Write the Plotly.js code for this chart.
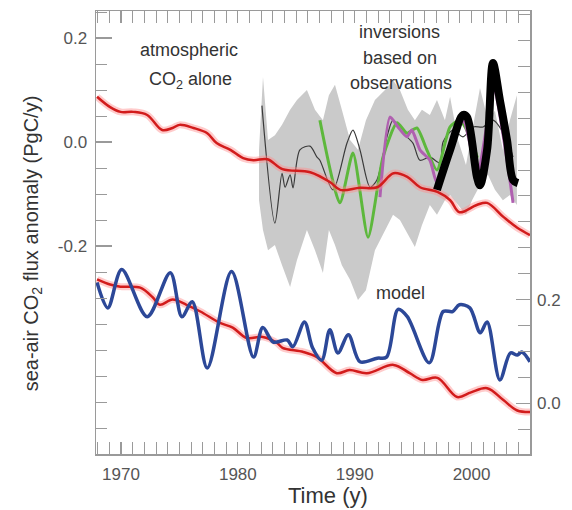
<!DOCTYPE html>
<html>
<head>
<meta charset="utf-8">
<script src="https://cdn.plot.ly/plotly-3.0.1.min.js"></script>
<style>html,body{margin:0;padding:0;background:#fff;}#chart{width:572px;height:510px;}</style>
</head>
<body>
<div id="chart"></div>
<script>
// ---- Data (years, PgC/y) ----
// Atmospheric CO2 alone (upper red, left axis)
var atmYears = [1967.95,1969.07,1969.96,1971.05,1972.24,1973.52,1974.41,1975.01,1976.2,1977.38,1978.18,1979.36,1980.45,1981.34,1982.53,1983.82,1986.19,1987.87,1988.76,1990.45,1991.93,1993.32,1994.5,1995.59,1997.08,1998.17,1998.96,2000.44,2001.33,2002.72,2003.91,2005.0];
var atmFlux  = [0.087,0.067,0.058,0.058,0.052,0.023,0.027,0.033,0.027,0.017,-0.002,-0.015,-0.031,-0.035,-0.033,-0.052,-0.058,-0.077,-0.092,-0.088,-0.087,-0.060,-0.067,-0.087,-0.096,-0.112,-0.135,-0.121,-0.117,-0.144,-0.165,-0.179];

// Inversion spread (gray band, left axis)
var bandYears = [1981.81,1982.15,1982.58,1983.17,1983.78,1984.47,1985.06,1985.91,1986.6,1987.28,1987.79,1988.31,1988.9,1989.6,1990.28,1990.96,1991.73,1992.59,1993.28,1993.87,1994.55,1995.15,1995.75,1996.43,1997.04,1997.72,1998.16,1998.84,1999.52,2000.04,2000.72,2001.4,2002.0,2002.68,2003.28,2003.88];
var bandUpper = [-0.015,0.125,0.004,0.013,0.033,0.062,0.081,0.100,0.062,0.042,0.090,0.110,0.062,0.004,-0.015,0.042,0.081,0.100,0.119,0.100,0.062,0.042,0.062,0.052,0.081,0.042,0.087,0.004,-0.044,0.023,0.104,0.042,0.06,-0.015,0.042,0.090];
var bandLower = [-0.112,-0.169,-0.208,-0.198,-0.237,-0.279,-0.227,-0.169,-0.208,-0.252,-0.169,-0.198,-0.237,-0.265,-0.304,-0.285,-0.208,-0.169,-0.140,-0.150,-0.179,-0.202,-0.160,-0.121,-0.140,-0.112,-0.102,-0.121,-0.140,-0.112,-0.083,-0.063,-0.092,-0.112,-0.102,-0.121];

// Inversion (thin black)
var invAYears = [1982.06,1983.17,1983.78,1984.04,1984.47,1984.72,1985.31,1986.17,1986.77,1987.02,1988.14,1989.34,1989.85,1990.45,1991.31,1991.9,1992.76,1993.28,1994.13,1994.98,1995.58,1996.43,1997.3,1997.56,1998.41,1999.26,2000.13,2000.98,2001.83,2003.03,2003.55];
var invAFlux  = [0.070,-0.156,-0.060,-0.087,-0.063,-0.088,-0.015,-0.008,-0.029,-0.035,-0.092,-0.002,0.023,-0.015,-0.087,-0.073,0.010,0.042,0.017,-0.002,-0.035,-0.029,-0.040,0.000,0.023,0.010,0.029,0.029,0.042,0.004,-0.029];

// Inversion (green)
var invBYears = [1987.02,1988.73,1989.85,1991.14,1992.42,1993.62,1994.47,1995.32,1996.17,1997.04,1998.16,1999.0,1999.87,2000.5];
var invBFlux  = [0.042,-0.117,-0.021,-0.183,-0.029,0.037,0.017,0.027,-0.015,-0.054,0.029,0.042,0.010,-0.030];

// Inversion (magenta)
var invCYears = [1992.16,1993.02,1993.7,1994.47,1994.89,1995.58,1996.43,1997.04,1998.2,1999.3,2000.5,2001.9,2003.0,2003.55];
var invCFlux  = [-0.106,0.048,0.029,0.010,0.023,-0.015,-0.035,-0.079,0.000,0.040,-0.060,0.100,-0.030,-0.117];

// Inversion (thick black)
var invDYears = [1997.04,1998.16,1999.26,1999.61,2000.46,2000.72,2001.33,2001.83,2002.42,2003.03,2003.55,2003.97];
var invDFlux  = [-0.092,-0.015,0.052,0.048,-0.067,-0.083,-0.015,0.152,0.081,0.004,-0.073,-0.079];

// Lower red (atmospheric CO2 alone, right axis)
var atm2Years = [1967.95,1969.07,1969.96,1971.64,1972.73,1973.32,1974.41,1975.6,1976.79,1978.47,1979.56,1980.75,1982.13,1983.32,1983.82,1985.6,1986.77,1988.46,1989.56,1991.04,1993.32,1994.71,1995.79,1997.08,1998.77,1999.95,2001.33,2002.72,2003.91,2005.0];
var atm2Flux  = [0.239,0.229,0.225,0.223,0.204,0.190,0.200,0.190,0.177,0.155,0.146,0.126,0.128,0.117,0.107,0.099,0.089,0.058,0.064,0.058,0.074,0.058,0.045,0.049,0.012,0.021,0.029,0.006,-0.014,-0.017];

// Ocean model (blue, right axis)
var modelYears = [1967.95,1968.87,1970.06,1972.24,1974.22,1975.21,1976.1,1977.38,1979.46,1981.34,1982.13,1983.03,1984.22,1984.71,1985.7,1986.39,1987.18,1987.87,1988.56,1989.46,1990.45,1991.93,1992.72,1993.71,1994.5,1996.38,1997.57,1998.37,1998.96,1999.85,2000.74,2001.33,2002.42,2003.32,2003.91,2004.3,2005.0];
var modelFlux  = [0.233,0.184,0.258,0.167,0.252,0.167,0.196,0.068,0.254,0.089,0.146,0.118,0.122,0.109,0.157,0.107,0.083,0.142,0.097,0.132,0.080,0.087,0.089,0.181,0.167,0.078,0.177,0.177,0.190,0.184,0.136,0.157,0.045,0.097,0.093,0.099,0.080];

var leftTicks = [-0.2, 0.0, 0.2];
var leftTickText = ['-0.2', '0.0', '0.2'];
var rightTicks = [0.0, 0.2];
var rightTickText = ['0.0', '0.2'];
var xTicks = [1970, 1980, 1990, 2000];

var FONT = '"Liberation Sans", Arial, Helvetica, sans-serif';
var RED = '#d21c1c', GLOW = 'rgba(255,140,140,0.45)';

var traces = [
  {x: bandYears, y: bandLower, mode:'lines', line:{width:0, color:'#c9c9c9'}, hoverinfo:'skip'},
  {x: bandYears, y: bandUpper, mode:'lines', fill:'tonexty', fillcolor:'#cacaca', line:{width:0, color:'#c9c9c9'}, hoverinfo:'skip'},
  {x: invAYears, y: invAFlux, mode:'lines', line:{color:'#3a3a3a', width:1.2, shape:'spline', smoothing:0.8}},
  {x: invBYears, y: invBFlux, mode:'lines', line:{color:'#5db83c', width:3, shape:'spline', smoothing:0.6}},
  {x: invCYears, y: invCFlux, mode:'lines', line:{color:'#b060b0', width:3, shape:'spline', smoothing:0.6}},
  {x: atmYears, y: atmFlux, mode:'lines', line:{color:GLOW, width:7, shape:'spline'}},
  {x: atmYears, y: atmFlux, mode:'lines', line:{color:RED, width:2.5, shape:'spline'}},
  {x: invDYears, y: invDFlux, mode:'lines', line:{color:'#000', width:8, shape:'spline', smoothing:0.9}},
  {x: atm2Years, y: atm2Flux, yaxis:'y2', mode:'lines', line:{color:GLOW, width:7, shape:'spline'}},
  {x: atm2Years, y: atm2Flux, yaxis:'y2', mode:'lines', line:{color:RED, width:2.5, shape:'spline'}},
  {x: modelYears, y: modelFlux, yaxis:'y2', mode:'lines', line:{color:'#2c4898', width:3.5, shape:'spline', smoothing:0.9}}
];

var axisGray = '#9a9a9a';
function note(text, x, y, size, extra) {
  var a = {text:text, xref:'paper', yref:'paper', x:x, y:y, xanchor:'center', yanchor:'middle',
           showarrow:false, font:{size:size, color:'#333'}};
  if (extra) { for (var k in extra) a[k] = extra[k]; }
  return a;
}
var layout = {
  width: 572, height: 510,
  margin: {l:96, r:42, t:11, b:56},
  paper_bgcolor:'#fff', plot_bgcolor:'#fff',
  showlegend:false,
  font:{family:FONT, color:'#444', size:17},
  xaxis:{
    range:[1967.86, 2005.0],
    tickmode:'array', tickvals:xTicks, ticktext:xTicks.map(String),
    ticks:'inside', ticklen:12, tickwidth:1.2, tickcolor:axisGray,
    minor:{tickmode:'linear', tick0:1970, dtick:1, ticks:'inside', ticklen:5, tickcolor:axisGray, tickwidth:1},
    showline:true, linecolor:axisGray, linewidth:1.5, mirror:'allticks',
    showgrid:false, zeroline:false,
    tickfont:{size:17, color:'#555'}, ticklabelstandoff:4
  },
  yaxis:{
    range:[-0.6, 0.252],
    tickmode:'array', tickvals:leftTicks, ticktext:leftTickText,
    ticks:'inside', ticklen:16, tickwidth:1.2, tickcolor:axisGray,
    minor:{tickmode:'linear', tick0:0, dtick:0.05, ticks:'inside', ticklen:11, tickcolor:axisGray, tickwidth:1},
    showline:true, linecolor:axisGray, linewidth:1.5, mirror:true,
    showgrid:false, zeroline:false,
    tickfont:{size:17, color:'#555'}, ticklabelstandoff:4
  },
  yaxis2:{
    overlaying:'y', side:'right',
    range:[-0.098, 0.757],
    tickmode:'array', tickvals:rightTicks, ticktext:rightTickText,
    ticks:'inside', ticklen:14, tickwidth:1.2, tickcolor:axisGray,
    minor:{tickmode:'linear', tick0:0, dtick:0.05, ticks:'inside', ticklen:12, tickcolor:axisGray, tickwidth:1},
    showline:false, showgrid:false, zeroline:false,
    tickfont:{size:17, color:'#555'}, ticklabelstandoff:6
  },
  annotations:[
    note('atmospheric', 0.214, 0.912, 18),
    note('CO<sub>2</sub> alone', 0.217, 0.842, 18),
    note('inversions', 0.700, 0.953, 18),
    note('based on', 0.700, 0.894, 18),
    note('observations', 0.702, 0.837, 18),
    note('model', 0.702, 0.363, 18),
    note('sea-air CO<sub>2</sub> flux anomaly (PgC/y)', -0.147, 0.476, 20, {textangle:-90}),
    note('Time (y)', 0.535, -0.093, 22)
  ]
};

Plotly.newPlot('chart', traces, layout, {staticPlot:true, displayModeBar:false});
</script>
</body>
</html>
